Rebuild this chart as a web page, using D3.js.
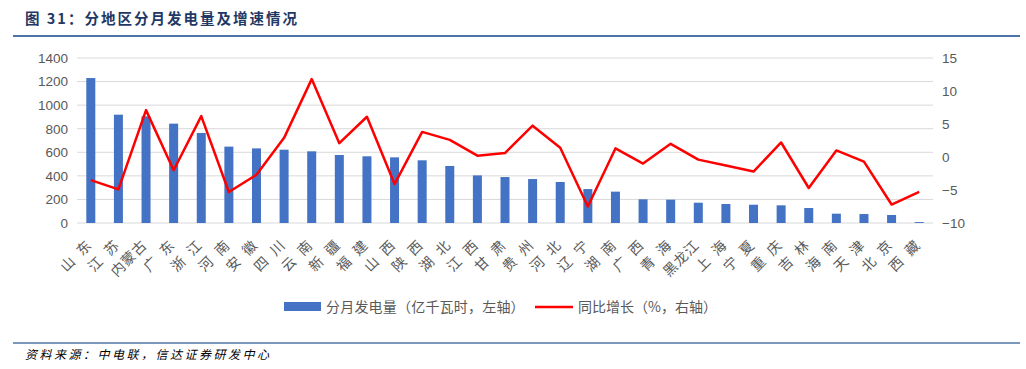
<!DOCTYPE html>
<html>
<head>
<meta charset="utf-8">
<script src="https://cdn.jsdelivr.net/npm/d3@7"></script>
<style>
  body { margin: 0; background: #fff; }
  svg { display: block; font-family: "Noto Sans CJK SC", "Noto Sans", sans-serif; }
</style>
</head>
<body>
<div id="viz"></div>
<script>
const regions = ["山\u2002东", "江\u2002苏", "内蒙古", "广\u2002东", "浙\u2002江", "河\u2002南", "安\u2002徽", "四\u2002川", "云\u2002南", "新\u2002疆", "福\u2002建",
  "山\u2002西", "陕\u2002西", "湖\u2002北", "江\u2002西", "甘\u2002肃", "贵\u2002州", "河\u2002北", "辽\u2002宁", "湖\u2002南", "广\u2002西", "青\u2002海", "黑龙江",
  "上\u2002海", "宁\u2002夏", "重\u2002庆", "吉\u2002林", "海\u2002南", "天\u2002津", "北\u2002京", "西\u2002藏"];
const output = [1230, 919, 905, 843, 764, 648, 633, 622, 608, 577, 566,
  557, 532, 484, 404, 390, 373, 348, 288, 266, 201, 198, 172,
  161, 155, 150, 127, 79, 76, 68, 8];
const growth = [-3.5, -4.9, 7.1, -2.0, 6.2, -5.3, -2.7, 2.9, 11.8, 2.1, 6.1,
  -4.1, 3.8, 2.6, 0.2, 0.6, 4.75, 1.4, -7.5, 1.3, -1.0, 2.0, -0.4,
  -1.3, -2.2, 2.2, -4.7, 1.0, -0.7, -7.2, -5.3];
const leftTicks = [0, 200, 400, 600, 800, 1000, 1200, 1400];
const rightTicks = [-10, -5, 0, 5, 10, 15];

const W = 1026, H = 369;
const plot = { left: 77, right: 933, top: 58, bottom: 223 };

const svg = d3.select("#viz").append("svg")
  .attr("width", W).attr("height", H);

// header
svg.append("text")
  .attr("x", 25).attr("y", 24)
  .attr("font-size", 14.5).attr("font-weight", "bold")
  .attr("letter-spacing", 2)
  .attr("fill", "#1f3864")
  .text("图 31：分地区分月发电量及增速情况");
svg.append("line")
  .attr("x1", 13).attr("x2", 1020).attr("y1", 36).attr("y2", 36)
  .attr("stroke", "#4f74a8").attr("stroke-width", 2);
svg.append("line")
  .attr("x1", 13).attr("x2", 1020).attr("y1", 343).attr("y2", 343)
  .attr("stroke", "#4f74a8").attr("stroke-width", 1.5);
svg.append("text")
  .attr("x", 25).attr("y", 359)
  .attr("font-size", 12).attr("font-style", "italic")
  .attr("letter-spacing", 2.5)
  .attr("fill", "#000")
  .text("资料来源：中电联，信达证券研发中心");

// scales
const x = d3.scaleBand().domain(regions).range([plot.left, plot.right]);
const yL = d3.scaleLinear().domain([0, 1400]).range([plot.bottom, plot.top]);
const yR = d3.scaleLinear().domain([-10, 15]).range([plot.bottom, plot.top]);
const cx = d => x(d) + x.bandwidth() / 2;

// gridlines
svg.append("g").selectAll("line")
  .data(leftTicks)
  .enter().append("line")
  .attr("x1", plot.left).attr("x2", plot.right)
  .attr("y1", d => yL(d)).attr("y2", d => yL(d))
  .attr("stroke", "#d9d9d9").attr("stroke-width", 1);

// left axis
const axL = svg.append("g")
  .attr("transform", "translate(" + plot.left + ",0)")
  .call(d3.axisLeft(yL).tickValues(leftTicks).tickFormat(d3.format("d")).tickSize(0).tickPadding(9));
axL.select(".domain").remove();
axL.selectAll("text").attr("font-size", 13.5).attr("fill", "#595959")
  .attr("font-family", "'Liberation Sans', 'Noto Sans', sans-serif");

// right axis
const axR = svg.append("g")
  .attr("transform", "translate(" + plot.right + ",0)")
  .call(d3.axisRight(yR).tickValues(rightTicks).tickSize(0).tickPadding(9));
axR.select(".domain").remove();
axR.selectAll("text").attr("font-size", 13.5).attr("fill", "#595959")
  .attr("font-family", "'Liberation Sans', 'Noto Sans', sans-serif");

// bars
const barW = 9;
svg.append("g").selectAll("rect")
  .data(output)
  .enter().append("rect")
  .attr("x", (d, i) => cx(regions[i]) - barW / 2)
  .attr("y", d => yL(d))
  .attr("width", barW)
  .attr("height", d => yL(0) - yL(d))
  .attr("fill", "#4472c4");

// line
const line = d3.line()
  .x((d, i) => cx(regions[i]))
  .y(d => yR(d));
svg.append("path")
  .datum(growth)
  .attr("d", line)
  .attr("fill", "none")
  .attr("stroke", "#ff0000")
  .attr("stroke-width", 2.5)
  .attr("stroke-linejoin", "round");

// x labels
svg.append("g").selectAll("text")
  .data(regions)
  .enter().append("text")
  .attr("transform", d => "translate(" + (cx(d) + 2) + "," + 246 + ") rotate(-45)")
  .attr("text-anchor", "end")
  .attr("font-size", 14)
  .attr("letter-spacing", 0.8)
  .attr("fill", "#595959")
  .text(d => d);

// legend
const lg = svg.append("g").attr("transform", "translate(0,307)");
lg.append("rect").attr("x", 284).attr("y", -5).attr("width", 37).attr("height", 9).attr("fill", "#4472c4");
lg.append("text").attr("x", 326).attr("y", 5).attr("font-size", 14).attr("letter-spacing", 0.2).attr("fill", "#595959")
  .text("分月发电量（亿千瓦时，左轴）");
lg.append("line").attr("x1", 535).attr("x2", 573).attr("y1", 0).attr("y2", 0)
  .attr("stroke", "#ff0000").attr("stroke-width", 2.5);
lg.append("text").attr("x", 578).attr("y", 5).attr("font-size", 14).attr("fill", "#595959")
  .text("同比增长（%，右轴）");
</script>
</body>
</html>
